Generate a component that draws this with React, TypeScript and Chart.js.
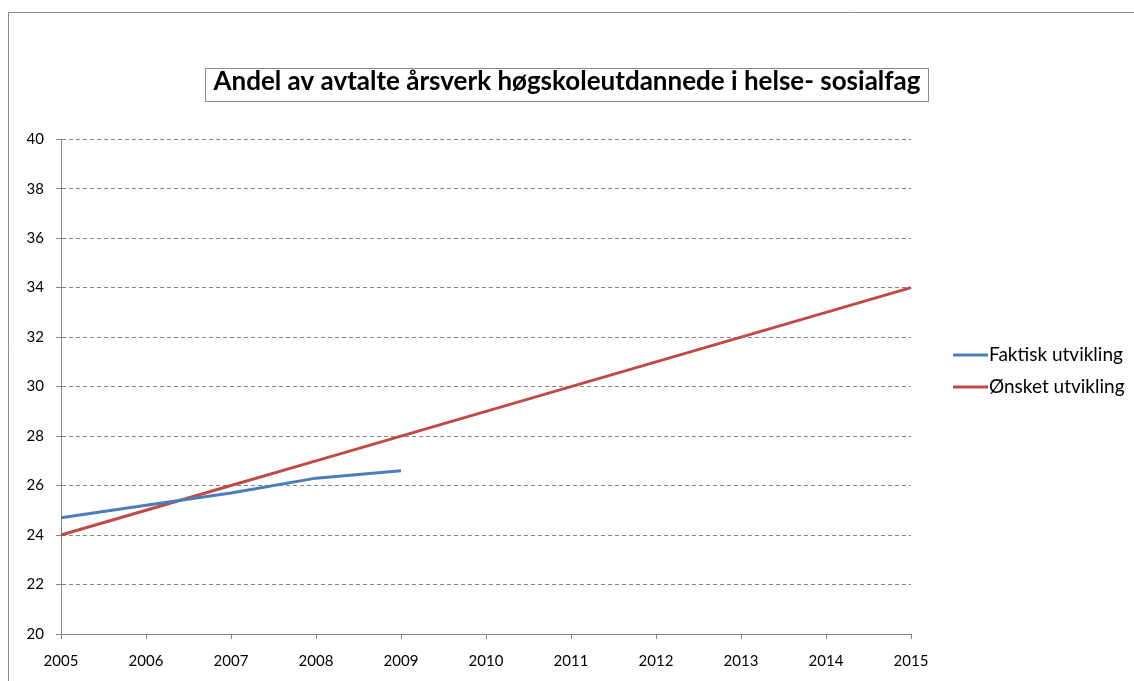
import React, { useEffect, useRef } from "react";
import { Chart, registerables } from "chart.js";

Chart.register(...registerables);

const years = ["2005", "2006", "2007", "2008", "2009", "2010", "2011", "2012", "2013", "2014", "2015"];
const faktiskUtvikling = [24.7, 25.2, 25.7, 26.3, 26.6, null, null, null, null, null, null];
const onsketUtvikling = [24, 25, 26, 27, 28, 29, 30, 31, 32, 33, 34];
const seriesLabels = ["Faktisk utvikling", "Ønsket utvikling"];
const seriesColors = ["#4A7EBB", "#BE4B48"];
const titleText = "Andel av avtalte årsverk høgskoleutdannede i helse- sosialfag";
const yMin = 20;
const yMax = 40;
const yStep = 2;

const FONT = "Lato, 'Open Sans', sans-serif";
const TITLE_SIZE = 26;
const AXIS_COLOR = "#868686";

const decorPlugin = {
  id: "decor",
  afterDraw(chart: any) {
    const ctx = chart.ctx as CanvasRenderingContext2D;
    ctx.save();
    // outer frame
    ctx.strokeStyle = "#8c8c8c";
    ctx.lineWidth = 1;
    ctx.setLineDash([]);
    ctx.beginPath();
    ctx.moveTo(8.5, 700);
    ctx.lineTo(8.5, 12.5);
    ctx.lineTo(1140, 12.5);
    ctx.stroke();

    // title box
    const tb = chart.titleBlock;
    ctx.font = `bold ${TITLE_SIZE}px ${FONT}`;
    const w = ctx.measureText(titleText).width;
    const cx = (tb.left + tb.right) / 2;
    ctx.strokeStyle = "#8c8c8c";
    ctx.strokeRect(Math.round(cx - w / 2 - 8) + 0.5, 68.5, Math.round(w + 16), 33);

    // legend
    chart.data.datasets.forEach((ds: any, i: number) => {
      const y = 355 + i * 32;
      ctx.strokeStyle = ds.borderColor;
      ctx.lineWidth = 3;
      ctx.beginPath();
      ctx.moveTo(953, y);
      ctx.lineTo(988, y);
      ctx.stroke();
      ctx.fillStyle = "#000";
      ctx.font = `19px ${FONT}`;
      ctx.textBaseline = "middle";
      ctx.textAlign = "left";
      ctx.fillText(ds.label, 989, y);
    });
    ctx.restore();
  },
};

export default function App() {
  const ref = useRef<HTMLCanvasElement | null>(null);

  useEffect(() => {
    if (!ref.current) return;
    const chart = new Chart(ref.current, {
      type: "line",
      data: {
        labels: years,
        datasets: [
          {
            label: seriesLabels[0],
            data: faktiskUtvikling,
            borderColor: seriesColors[0],
            backgroundColor: seriesColors[0],
            borderWidth: 3,
            pointRadius: 0,
            tension: 0,
            spanGaps: false,
          },
          {
            label: seriesLabels[1],
            data: onsketUtvikling,
            borderColor: seriesColors[1],
            backgroundColor: seriesColors[1],
            borderWidth: 3,
            pointRadius: 0,
            tension: 0,
          },
        ],
      },
      options: {
        animation: false,
        responsive: false,
        devicePixelRatio: 1,
        layout: { padding: { left: 0, right: 0, top: 0, bottom: 0 } },
        plugins: {
          legend: { display: false },
          tooltip: { enabled: false },
          title: {
            display: true,
            text: titleText,
            color: "#000",
            font: { family: FONT, size: TITLE_SIZE, weight: "bold", lineHeight: 1.2 },
            padding: { top: 66, bottom: 42 },
          },
        },
        scales: {
          x: {
            type: "category",
            offset: false,
            grid: {
              drawOnChartArea: false,
              drawTicks: true,
              tickLength: 5,
              tickColor: AXIS_COLOR,
              color: AXIS_COLOR,
            },
            border: { color: AXIS_COLOR, width: 1 },
            ticks: {
              color: "#000",
              font: { family: FONT, size: 15 },
              padding: 13,
              autoSkip: false,
              maxRotation: 0,
            },
            afterFit: (scale: any) => {
              scale.height = 47;
            },
          },
          y: {
            min: yMin,
            max: yMax,
            grid: {
              color: AXIS_COLOR,
              tickLength: 5,
              tickColor: AXIS_COLOR,
              tickBorderDash: [],
            },
            border: { color: AXIS_COLOR, width: 1, dash: [4, 3] },
            ticks: {
              stepSize: yStep,
              color: "#000",
              font: { family: FONT, size: 15 },
              padding: 12,
            },
            afterFit: (scale: any) => {
              scale.width = 61;
            },
          },
          legendSpace: {
            type: "linear",
            position: "right",
            grid: { display: false, drawTicks: false },
            border: { display: false },
            ticks: { display: false },
            afterFit: (scale: any) => {
              scale.width = 223;
            },
          },
        },
      },
      plugins: [decorPlugin],
    });
    return () => chart.destroy();
  }, []);

  return (
    <div style={{ position: "absolute", left: 0, top: 0, width: 1134, height: 681, background: "#fff" }}>
      <canvas ref={ref} width={1134} height={681} />
    </div>
  );
}
